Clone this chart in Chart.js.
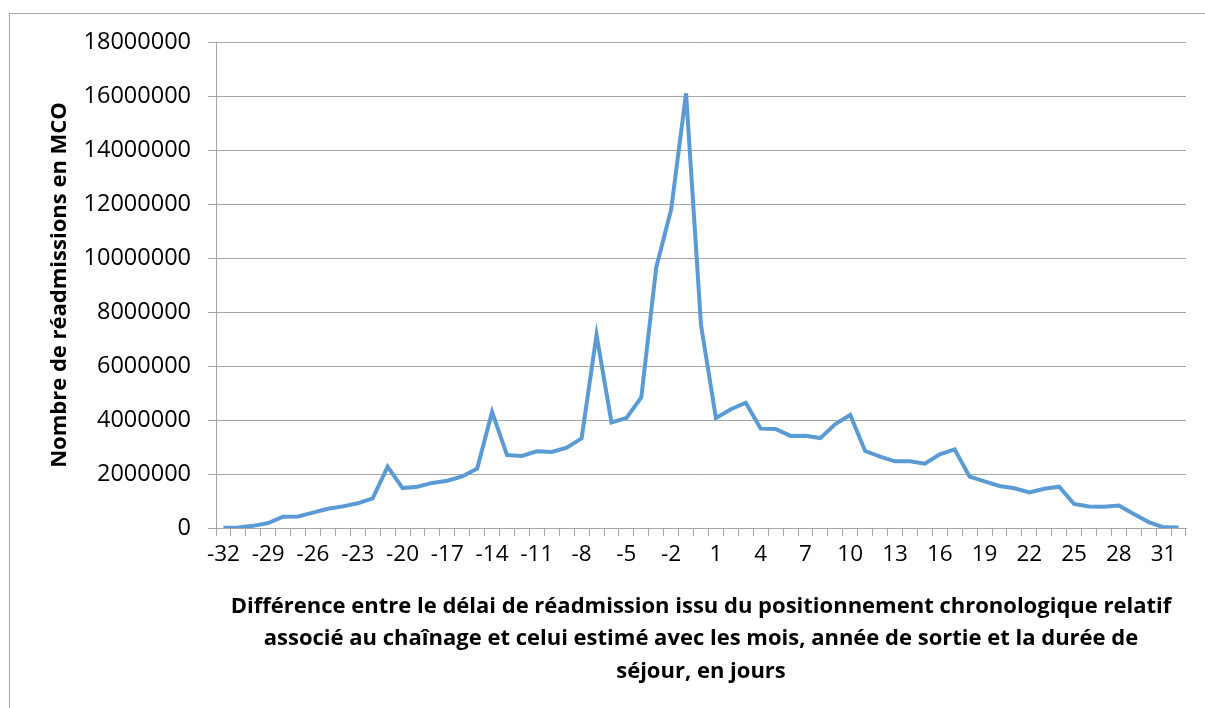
<!DOCTYPE html>
<html lang="fr">
<head>
    <meta charset="UTF-8" />
    <title>Réadmissions en MCO</title>
    <style>
        html, body {
            margin: 0;
            padding: 0;
            background: #fff;
        }
        #wrap {
            position: relative;
            width: 1205px;
            height: 708px;
        }
        #frame {
            position: absolute;
            left: 9px;
            top: 13px;
            right: 0;
            bottom: 0;
            border-top: 1px solid #a6a6a6;
            border-left: 1px solid #a6a6a6;
        }
        #chart {
            position: absolute;
            left: 0;
            top: 0;
        }
    </style>
</head>
<body>
    <div id="wrap">
        <div id="frame"></div>
        <canvas id="chart" width="1205" height="708"></canvas>
    </div>

    <script src="https://cdn.jsdelivr.net/npm/chart.js"></script>
    <script>
        // écart en jours, de -32 à 32
        const days = [
            -32, -31, -30, -29, -28, -27, -26, -25, -24, -23, -22, -21, -20, -19, -18, -17,
            -16, -15, -14, -13, -12, -11, -10, -9, -8, -7, -6, -5, -4, -3, -2, -1,
            0, 1, 2, 3, 4, 5, 6, 7, 8, 9, 10, 11, 12, 13, 14, 15,
            16, 17, 18, 19, 20, 21, 22, 23, 24, 25, 26, 27, 28, 29, 30, 31, 32
        ];

        // nombre de réadmissions
        const readmissions = [
            5000, 20000, 80000, 185000, 420000, 430000, 570000, 715000, 800000, 915000, 1100000, 2270000, 1480000, 1530000, 1670000, 1750000,
            1910000, 2200000, 4300000, 2700000, 2670000, 2840000, 2815000, 2975000, 3320000, 7150000, 3910000, 4075000, 4840000, 9650000, 11800000, 16100000,
            7520000, 4075000, 4400000, 4640000, 3680000, 3670000, 3410000, 3420000, 3330000, 3850000, 4185000, 2850000, 2640000, 2470000, 2470000, 2380000,
            2730000, 2910000, 1900000, 1730000, 1555000, 1470000, 1320000, 1455000, 1530000, 890000, 800000, 790000, 830000, 520000, 220000, 25000, 20000
        ];

        const yMax = 18000000;
        const yStep = 2000000;

        const xTitle = [
            "Différence entre le délai de réadmission issu du positionnement chronologique relatif",
            "associé au chaînage et celui estimé avec les mois, année de sortie et la durée de",
            "séjour, en jours"
        ];
        const yTitle = "Nombre de réadmissions en MCO";

        const gridColor = "#a6a6a6";
        const fontFamily = "'Open Sans', 'Liberation Sans', sans-serif";

        const ctx = document.getElementById("chart").getContext("2d");
        const chart = new Chart(ctx, {
            type: "line",
            data: {
                labels: days,
                datasets: [{
                    data: readmissions,
                    borderColor: "#5b9bd5",
                    borderWidth: 4,
                    pointRadius: 0,
                    fill: false,
                    tension: 0,
                }],
            },
            options: {
                responsive: false,
                animation: false,
                layout: {
                    padding: { top: 42, right: 19, left: 0, bottom: 0 }
                },
                plugins: {
                    legend: { display: false },
                    tooltip: { enabled: false }
                },
                scales: {
                    x: {
                        offset: true,
                        grid: {
                            offset: true,
                            drawOnChartArea: false,
                            drawTicks: true,
                            tickLength: 8,
                            color: gridColor
                        },
                        border: { color: gridColor },
                        ticks: {
                            autoSkip: false,
                            maxRotation: 0,
                            color: "#000",
                            padding: 5,
                            font: { family: fontFamily, size: 22.5 },
                            callback: function (value, index) {
                                return index % 3 === 0 ? String(days[index]) : "";
                            }
                        },
                        title: {
                            display: true,
                            text: xTitle,
                            color: "#000",
                            font: { family: fontFamily, size: 22, weight: "bold", lineHeight: 1.48 },
                            padding: { top: 0, bottom: 20 }
                        },
                        afterFit: function (scale) {
                            scale.height = 180;
                        }
                    },
                    y: {
                        min: 0,
                        max: yMax,
                        grid: {
                            color: gridColor,
                            tickLength: 8
                        },
                        border: { color: gridColor },
                        ticks: {
                            stepSize: yStep,
                            color: "#000",
                            padding: 17,
                            font: { family: fontFamily, size: 23.5 },
                            callback: function (value) {
                                return String(value);
                            }
                        },
                        title: {
                            display: true,
                            text: yTitle,
                            color: "#000",
                            font: { family: fontFamily, size: 22, weight: "bold", lineHeight: 1.2 },
                            padding: { top: 47, bottom: 0 }
                        },
                        afterFit: function (scale) {
                            scale.width = 216;
                        }
                    }
                }
            }
        });
    </script>
</body>
</html>
